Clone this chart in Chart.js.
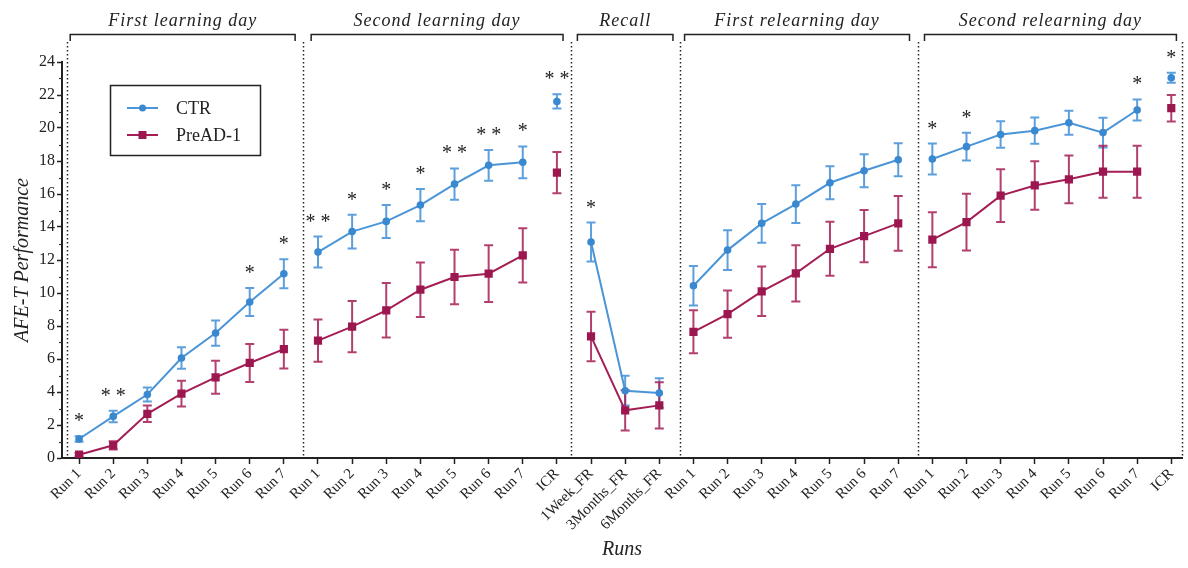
<!DOCTYPE html>
<html>
<head>
<meta charset="utf-8">
<script src="https://cdn.jsdelivr.net/npm/chart.js@4/dist/chart.umd.min.js"></script>
<style>
  html, body { margin: 0; padding: 0; background: #fff; }
  #wrap { width: 1188px; height: 568px; }
</style>
</head>
<body>
<div id="wrap"><canvas id="chart"></canvas></div>
<script>
// categories, 33 of them, split in 5 sessions
const runLabels = [
    "Run 1", "Run 2", "Run 3", "Run 4", "Run 5", "Run 6", "Run 7",
    "Run 1", "Run 2", "Run 3", "Run 4", "Run 5", "Run 6", "Run 7", "ICR",
    "1Week_FR", "3Months_FR", "6Months_FR",
    "Run 1", "Run 2", "Run 3", "Run 4", "Run 5", "Run 6", "Run 7",
    "Run 1", "Run 2", "Run 3", "Run 4", "Run 5", "Run 6", "Run 7", "ICR"
];
const yTicks = [0, 2, 4, 6, 8, 10, 12, 14, 16, 18, 20, 22, 24];

const ctrMean = [
    1.15, 2.52, 3.85, 6.06, 7.57, 9.45, 11.17,
    12.48, 13.72, 14.34, 15.33, 16.6, 17.74, 17.92, 21.61,
    13.09, 4.08, 3.94,
    10.44, 12.6, 14.22, 15.39, 16.68, 17.41, 18.08,
    18.12, 18.87, 19.61, 19.84, 20.32, 19.72, 21.09, 23.05
];
const ctrErr = [
    0.17, 0.35, 0.42, 0.65, 0.77, 0.85, 0.88,
    0.94, 1.02, 1.0, 0.98, 0.95, 0.93, 0.96, 0.43,
    1.18, 0.9, 0.9,
    1.2, 1.2, 1.17, 1.14, 1.0, 1.0, 1.0,
    0.94, 0.84, 0.8, 0.8, 0.73, 0.9, 0.64, 0.3
];
const preMean = [
    0.2, 0.77, 2.68, 3.9, 4.89, 5.76, 6.6,
    7.11, 7.96, 8.95, 10.2, 10.97, 11.17, 12.28, 17.29,
    7.37, 2.89, 3.19,
    7.65, 8.72, 10.1, 11.19, 12.68, 13.45, 14.22,
    13.23, 14.3, 15.9, 16.52, 16.89, 17.35, 17.35, 21.2
];
const preErr = [
    0.1, 0.25, 0.5, 0.78, 1.0, 1.15, 1.18,
    1.28, 1.55, 1.65, 1.65, 1.65, 1.72, 1.65, 1.25,
    1.5, 1.22, 1.4,
    1.3, 1.43, 1.5, 1.7, 1.64, 1.58, 1.66,
    1.67, 1.72, 1.6, 1.47, 1.45, 1.58, 1.58, 0.8
];
const stars = [
    "*", "* *", "", "", "", "*", "*",
    "* *", "*", "*", "*", "* *", "* *", "*", "* *",
    "*", "", "",
    "", "", "", "", "", "", "",
    "*", "*", "", "", "", "", "*", "*"
];

// session headers: [title, bracket from, bracket to] in x units
const sessions = [
    ["First learning day", -0.26, 6.33],
    ["Second learning day", 6.8, 14.18],
    ["Recall", 14.6, 17.4],
    ["First relearning day", 17.74, 24.33],
    ["Second relearning day", 24.77, 32.15]
];
const separators = [-0.35, 6.56, 14.42, 17.6, 24.58, 32.3];
// the line is not drawn from these indexes to the next one
const lineBreaks = [6, 13, 14, 17, 24, 31];

const BLUE = "#4a95d8";
const BLUE_DOT = "#3a88d0";
const RED = "#a41e55";
const RED_DOT = "#9c1750";
const SERIF = "'Liberation Serif', 'DejaVu Serif', serif";

function toPoints(values) {
    return values.map((v, i) => ({ x: i, y: v }));
}

function segColor(color) {
    return (ctx) => (lineBreaks.includes(ctx.p0DataIndex) ? "rgba(0,0,0,0)" : color);
}

const errorBars = {
    id: "errorBars",
    beforeDatasetsDraw(chart) {
        const ctx = chart.ctx;
        const xs = chart.scales.x;
        const ys = chart.scales.y;
        const sets = [
            [ctrMean, ctrErr, "rgba(74,149,216,0.9)"],
            [preMean, preErr, "rgba(164,30,85,0.85)"]
        ];
        ctx.save();
        ctx.lineWidth = 2;
        sets.forEach(([m, e, c]) => {
            ctx.strokeStyle = c;
            m.forEach((v, i) => {
                const x = xs.getPixelForValue(i);
                const y1 = ys.getPixelForValue(v + e[i]);
                const y2 = ys.getPixelForValue(v - e[i]);
                ctx.beginPath();
                ctx.moveTo(x, y1);
                ctx.lineTo(x, y2);
                ctx.moveTo(x - 4.5, y1);
                ctx.lineTo(x + 4.5, y1);
                ctx.moveTo(x - 4.5, y2);
                ctx.lineTo(x + 4.5, y2);
                ctx.stroke();
            });
        });
        ctx.restore();
    }
};

const decorations = {
    id: "decorations",
    afterDraw(chart) {
        const ctx = chart.ctx;
        const xs = chart.scales.x;
        const ys = chart.scales.y;
        const area = chart.chartArea;
        ctx.save();

        // dotted session separators
        ctx.strokeStyle = "#222";
        ctx.lineWidth = 1.5;
        ctx.setLineDash([1.5, 2.5]);
        separators.forEach((s) => {
            const x = Math.round(xs.getPixelForValue(s)) + 0.5;
            ctx.beginPath();
            ctx.moveTo(x, 42);
            ctx.lineTo(x, area.bottom - 1);
            ctx.stroke();
        });
        ctx.setLineDash([]);

        // minor y ticks
        ctx.strokeStyle = "#333";
        ctx.lineWidth = 1.2;
        for (let v = 1; v < 24; v += 2) {
            const y = Math.round(ys.getPixelForValue(v)) + 0.5;
            ctx.beginPath();
            ctx.moveTo(area.left - 3, y);
            ctx.lineTo(area.left, y);
            ctx.stroke();
        }

        // session brackets and titles
        ctx.strokeStyle = "#222";
        ctx.lineWidth = 1.5;
        ctx.fillStyle = "#222";
        ctx.font = "italic 18px " + SERIF;
        ctx.textAlign = "center";
        ctx.textBaseline = "alphabetic";
        if ("letterSpacing" in ctx) ctx.letterSpacing = "1px";
        sessions.forEach(([title, a, b]) => {
            const x1 = xs.getPixelForValue(a);
            const x2 = xs.getPixelForValue(b);
            ctx.beginPath();
            ctx.moveTo(x1, 41);
            ctx.lineTo(x1, 34.5);
            ctx.lineTo(x2, 34.5);
            ctx.lineTo(x2, 41);
            ctx.stroke();
            ctx.fillText(title, (x1 + x2) / 2, 26);
        });
        if ("letterSpacing" in ctx) ctx.letterSpacing = "0px";

        // significance stars above CTR
        ctx.font = "20px " + SERIF;
        ctx.fillStyle = "#222";
        stars.forEach((s, i) => {
            if (!s) return;
            const x = xs.getPixelForValue(i);
            const top = ys.getPixelForValue(ctrMean[i] + ctrErr[i]);
            ctx.fillText(s, x, top - 9);
        });

        // legend box
        ctx.lineWidth = 1.5;
        ctx.strokeStyle = "#222";
        ctx.strokeRect(110.5, 85.5, 150, 70);
        const rows = [["CTR", BLUE, BLUE_DOT, "circle", 108], ["PreAD-1", RED, RED_DOT, "rect", 135]];
        ctx.textAlign = "left";
        ctx.textBaseline = "middle";
        ctx.font = "18px " + SERIF;
        rows.forEach(([name, lc, pc, shape, y]) => {
            ctx.strokeStyle = lc;
            ctx.lineWidth = 2;
            ctx.beginPath();
            ctx.moveTo(127, y);
            ctx.lineTo(158, y);
            ctx.stroke();
            ctx.fillStyle = pc;
            if (shape === "circle") {
                ctx.beginPath();
                ctx.arc(142.5, y, 3.5, 0, Math.PI * 2);
                ctx.fill();
            } else {
                ctx.fillRect(138.5, y - 4, 8, 8);
            }
            ctx.fillStyle = "#222";
            ctx.fillText(name, 176, y + 1);
        });
        ctx.restore();
    }
};

new Chart(document.getElementById("chart"), {
    type: "line",
    data: {
        datasets: [
            {
                label: "CTR",
                data: toPoints(ctrMean),
                borderColor: BLUE,
                backgroundColor: BLUE_DOT,
                pointBackgroundColor: BLUE_DOT,
                pointBorderWidth: 0,
                pointRadius: 3.8,
                pointStyle: "circle",
                borderWidth: 2,
                segment: { borderColor: segColor(BLUE) },
                order: 2
            },
            {
                label: "PreAD-1",
                data: toPoints(preMean),
                borderColor: RED,
                backgroundColor: RED_DOT,
                pointBackgroundColor: RED_DOT,
                pointBorderWidth: 0,
                pointRadius: 5.8,
                pointStyle: "rect",
                borderWidth: 2,
                segment: { borderColor: segColor(RED) },
                order: 1
            }
        ]
    },
    options: {
        responsive: true,
        maintainAspectRatio: false,
        animation: false,
        layout: { padding: { top: 62, right: 1, left: 0, bottom: 0 } },
        plugins: {
            legend: { display: false },
            tooltip: { enabled: false }
        },
        scales: {
            x: {
                type: "linear",
                min: -0.5,
                max: 32.32,
                afterFit: (scale) => { scale.height = 110; },
                grid: {
                    drawOnChartArea: false,
                    drawTicks: true,
                    tickLength: 6,
                    tickColor: "#222",
                    tickWidth: 1.5
                },
                border: { display: true, color: "#222", width: 2 },
                ticks: {
                    stepSize: 1,
                    includeBounds: false,
                    autoSkip: false,
                    minRotation: 45,
                    maxRotation: 45,
                    padding: 1,
                    color: "#222",
                    font: { family: SERIF, size: 15 },
                    callback: (v) => runLabels[v] ?? ""
                },
                title: {
                    display: true,
                    text: "Runs",
                    color: "#222",
                    font: { family: SERIF, size: 20, style: "italic" },
                    padding: { top: 0, bottom: 6 }
                }
            },
            y: {
                min: 0,
                max: 24,
                afterFit: (scale) => { scale.width = 62; },
                afterBuildTicks: (scale) => { scale.ticks = yTicks.map((v) => ({ value: v })); },
                grid: {
                    drawOnChartArea: false,
                    drawTicks: true,
                    tickLength: 5,
                    tickColor: "#222",
                    tickWidth: 1.5
                },
                border: { display: true, color: "#222", width: 2 },
                ticks: {
                    padding: 2,
                    color: "#222",
                    font: { family: SERIF, size: 16 }
                },
                title: {
                    display: true,
                    text: "AFE-T Performance",
                    color: "#222",
                    font: { family: SERIF, size: 20, style: "italic" },
                    padding: { top: 11, bottom: 0 }
                }
            }
        }
    },
    plugins: [errorBars, decorations]
});
</script>
</body>
</html>
